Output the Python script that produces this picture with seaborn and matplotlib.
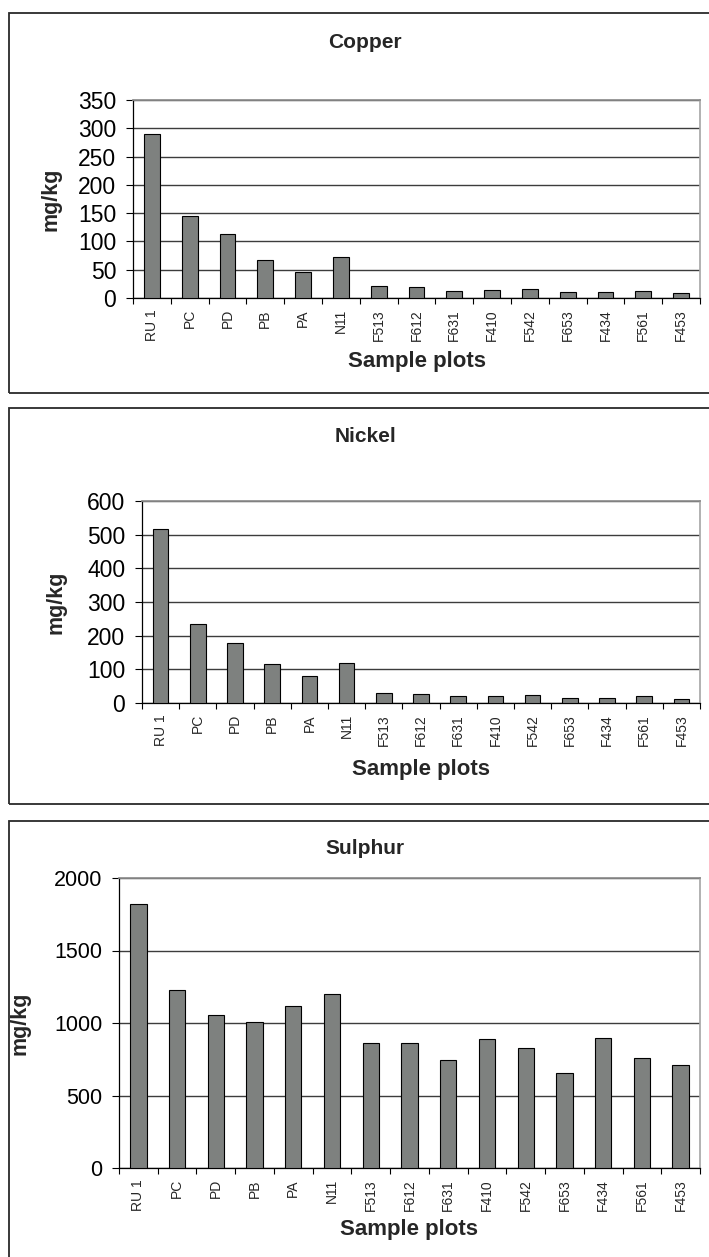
import matplotlib
matplotlib.use("Agg")
import matplotlib.pyplot as plt
from matplotlib.patches import Rectangle
from matplotlib.ticker import FixedLocator, NullFormatter
import seaborn as sns

# Sample plots and measured concentrations (mg/kg)
plots = ["RU 1", "PC", "PD", "PB", "PA", "N11", "F513", "F612", "F631",
         "F410", "F542", "F653", "F434", "F561", "F453"]
copper = [290, 145, 114, 67, 46, 73, 21, 19.5, 13, 15, 15.5, 10.5, 10.5, 13, 9]
nickel = [517, 234, 178, 115, 79, 119, 31, 27.5, 19.5, 19.5, 22.5, 14, 14, 19.5, 11]
sulphur = [1821, 1230, 1055, 1007, 1117, 1198, 862, 862, 745, 890, 825, 655,
           897, 761, 707]

copper_ticks = [0, 50, 100, 150, 200, 250, 300, 350]
nickel_ticks = [0, 100, 200, 300, 400, 500, 600]
sulphur_ticks = [0, 500, 1000, 1500, 2000]

sns.set_theme(style="white")
plt.rcParams["font.family"] = ["Liberation Sans", "DejaVu Sans"]

W, H = 709, 1257
fig = plt.figure(figsize=(W / 100, H / 100), dpi=100)
fig.patch.set_facecolor("white")

BAR = "#7e817f"
GRID = "#3c3c3c"


def fx(px):
    return px / W


def fy(py):
    return 1 - py / H


def panel_box(top, bottom):
    fig.add_artist(Rectangle((fx(9), fy(bottom)), fx(730) - fx(9), fy(top) - fy(bottom),
                             transform=fig.transFigure, fill=False,
                             edgecolor="#2a2a2a", linewidth=1.3, clip_on=False))


def panel(values, ticks, left, right, top, bottom, title, title_y,
          ylab_x, xlab_y, ytick_size):
    ax = fig.add_axes([fx(left), fy(bottom), fx(right) - fx(left), fy(top) - fy(bottom)])
    sns.barplot(x=plots, y=values, order=plots, color=BAR, saturation=1,
                width=0.42, edgecolor="black", linewidth=0.8, ax=ax, zorder=3)
    ax.set_xlim(-0.5, len(plots) - 0.5)
    ax.set_ylim(ticks[0], ticks[-1])
    ax.set_yticks(ticks)
    ax.set_yticklabels([str(t) for t in ticks], fontsize=ytick_size)
    ax.yaxis.grid(True, color=GRID, linewidth=1.0, zorder=0)
    ax.xaxis.grid(False)
    ax.set_axisbelow(True)
    ax.tick_params(axis="y", direction="out", length=5, width=0.8, pad=7,
                   left=True, colors="black")
    ax.tick_params(axis="x", which="major", length=0, pad=8, labelsize=10,
                   labelrotation=90)
    ax.xaxis.set_minor_locator(FixedLocator([i - 0.5 for i in range(len(plots) + 1)]))
    ax.xaxis.set_minor_formatter(NullFormatter())
    ax.tick_params(axis="x", which="minor", direction="out", length=4,
                   width=0.8, bottom=True, color="black")
    for lab in ax.get_xticklabels():
        lab.set_verticalalignment("top")
    ax.spines["left"].set_color("black")
    ax.spines["bottom"].set_color("black")
    ax.spines["left"].set_linewidth(0.9)
    ax.spines["bottom"].set_linewidth(0.9)
    ax.spines["top"].set_color("#8c8c8c")
    ax.spines["right"].set_color("#a8a8a8")
    ax.set_xlabel("")
    ax.set_ylabel("")
    ax.set_facecolor("white")

    fig.text(fx(365), fy(title_y), title, ha="center", va="center",
             fontsize=15, fontweight="bold")
    fig.text(fx(ylab_x), fy((top + bottom) / 2), "mg/kg", ha="center",
             va="center", rotation=90, fontsize=15.5, fontweight="bold")
    fig.text(fx((left + right) / 2), fy(xlab_y), "Sample plots", ha="center",
             va="center", fontsize=16, fontweight="bold")
    return ax


panel_box(13, 393)
panel_box(408, 804)
panel_box(821, 1300)

panel(copper, copper_ticks, 133, 700, 100, 298, "Copper", 42, 51, 361, 16.5)
panel(nickel, nickel_ticks, 142, 700, 501, 703, "Nickel", 437, 56, 770, 16.5)
panel(sulphur, sulphur_ticks, 119, 700, 878, 1168, "Sulphur", 848, 20, 1230, 15.5)

fig.savefig("out.png", dpi=100, facecolor="white")
